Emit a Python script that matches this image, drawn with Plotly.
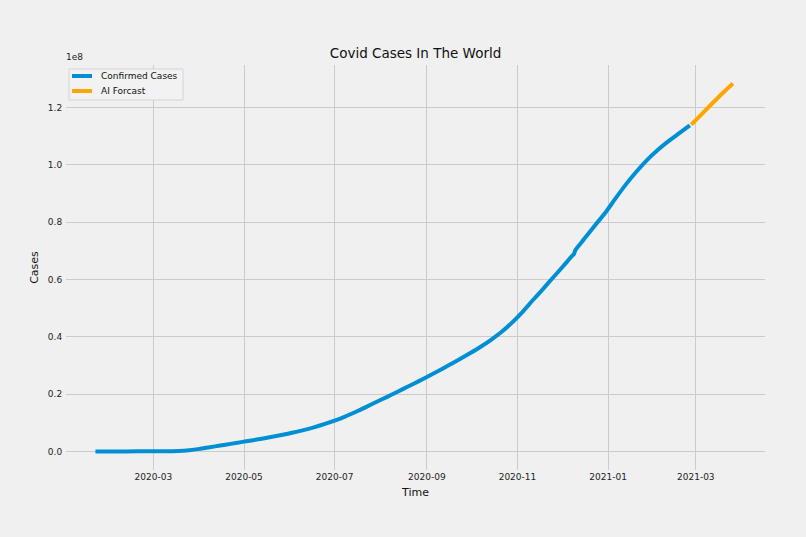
import plotly.graph_objects as go

# ---- data (cumulative confirmed cases, millions) ----
confirmed_dates = [
    "2020-01-22", "2020-02-05", "2020-02-19", "2020-03-04", "2020-03-11", "2020-03-18",
    "2020-03-25", "2020-04-01", "2020-04-08", "2020-04-15", "2020-04-22", "2020-04-29",
    "2020-05-06", "2020-05-13", "2020-05-20", "2020-05-27", "2020-06-03", "2020-06-10",
    "2020-06-17", "2020-06-24", "2020-07-01", "2020-07-08", "2020-07-15", "2020-07-22",
    "2020-07-29", "2020-08-05", "2020-08-12", "2020-08-19", "2020-08-26", "2020-09-02",
    "2020-09-09", "2020-09-16", "2020-09-23", "2020-09-30", "2020-10-07", "2020-10-14",
    "2020-10-21", "2020-10-28", "2020-11-04", "2020-11-11", "2020-11-18", "2020-11-25",
    "2020-12-02", "2020-12-08", "2020-12-09", "2020-12-10", "2020-12-16", "2020-12-23",
    "2020-12-30", "2021-01-06", "2021-01-13", "2021-01-20", "2021-01-27", "2021-02-03",
    "2021-02-10", "2021-02-17", "2021-02-25",
]
confirmed_millions = [
    0.0, 0.03, 0.08, 0.10, 0.13, 0.22,
    0.50, 0.95, 1.55, 2.10, 2.70, 3.30,
    3.90, 4.50, 5.15, 5.85, 6.65, 7.50,
    8.45, 9.55, 10.80, 12.20, 13.80, 15.50,
    17.30, 19.00, 20.80, 22.60, 24.40, 26.30,
    28.20, 30.20, 32.20, 34.30, 36.50, 38.90,
    41.60, 44.80, 48.50, 52.60, 56.60, 60.70,
    64.80, 68.40, 68.90, 70.30, 74.20, 78.80,
    83.20, 88.30, 93.20, 97.60, 101.60, 105.00,
    108.00, 110.70, 113.80,
]

forecast_dates = ["2021-02-26", "2021-03-05", "2021-03-12", "2021-03-19", "2021-03-26"]
forecast_millions = [114.0, 117.7, 121.4, 125.0, 128.4]

y_tick_values = [0.0, 0.2, 0.4, 0.6, 0.8, 1.0, 1.2]

series_names = ["Confirmed Cases", "AI Forcast"]
series_colors = ["#008fd5", "#ffa500"]

SCALE = 100.0  # millions -> units of 1e8

BG = "#f0f0f0"
GRID = "#cbcbcb"
FONT = "DejaVu Sans"

W, H = 806, 537
ML, MR, MT, MB = 66, 41, 65, 67
PW, PH = W - ML - MR, H - MT - MB


def px_x(p):
    return (p - ML) / PW


def px_y(p):
    return (H - MB - p) / PH


fig = go.Figure()
fig.add_trace(go.Scatter(
    x=confirmed_dates, y=[v / SCALE for v in confirmed_millions],
    mode="lines", name=series_names[0],
    line=dict(color=series_colors[0], width=4, shape="spline", smoothing=0.6),
))
fig.add_trace(go.Scatter(
    x=forecast_dates, y=[v / SCALE for v in forecast_millions],
    mode="lines", name=series_names[1],
    line=dict(color=series_colors[1], width=4, shape="spline", smoothing=0.6),
))

# legend box (drawn in paper space to mimic the matplotlib legend frame)
shapes = [dict(type="rect", xref="paper", yref="paper",
               x0=px_x(69), x1=px_x(183), y0=px_y(100), y1=px_y(69),
               fillcolor="#f2f2f2", line=dict(color="#d4d4d4", width=1), layer="above")]
annotations = []
for i, (nm, col) in enumerate(zip(series_names, series_colors)):
    yy = 76 + 15 * i
    shapes.append(dict(type="line", xref="paper", yref="paper",
                       x0=px_x(72), x1=px_x(92), y0=px_y(yy), y1=px_y(yy),
                       line=dict(color=col, width=4), layer="above"))
    annotations.append(dict(text=nm, xref="paper", yref="paper", x=px_x(99), y=px_y(yy),
                            xanchor="left", yanchor="middle", showarrow=False,
                            font=dict(size=9, color="#111")))

annotations.append(dict(text="1e8", xref="paper", yref="paper", x=px_x(64), y=px_y(57),
                        xanchor="left", yanchor="middle", showarrow=False,
                        font=dict(size=9, color="#222")))

fig.update_layout(
    width=W, height=H,
    margin=dict(l=ML, r=MR, t=MT, b=MB, autoexpand=False),
    paper_bgcolor=BG, plot_bgcolor=BG,
    font=dict(family=FONT, size=9, color="#222"),
    title=dict(text="Covid Cases In The World", x=0.5, xref="paper",
               y=1 - 53 / H, yref="container", yanchor="middle", xanchor="center",
               font=dict(size=13.5, color="#111")),
    showlegend=False,
    xaxis=dict(
        type="date",
        range=["2020-01-02 05:00", "2021-04-16 14:00"],
        tick0="2020-03-01", dtick="M2", tickformat="%Y-%m",
        showgrid=True, gridcolor=GRID, gridwidth=1,
        zeroline=False, showline=False,
        ticks="", ticklen=0,
        title=dict(text="Time", font=dict(size=11, color="#111"), standoff=7),
        automargin=False,
    ),
    yaxis=dict(
        range=[-0.0642, 1.3483],
        tickvals=y_tick_values, tickformat=".1f",
        showgrid=True, gridcolor=GRID, gridwidth=1,
        zeroline=False, showline=False,
        ticks="outside", ticklen=1, tickcolor="rgba(0,0,0,0)",
        title=dict(text="Cases", font=dict(size=11, color="#111"), standoff=7),
        automargin=False,
    ),
    shapes=shapes,
    annotations=annotations,
)

fig.write_html("out.html", config={"displayModeBar": False},
               post_script="document.body.style.margin='0';document.body.style.overflow='hidden';")
